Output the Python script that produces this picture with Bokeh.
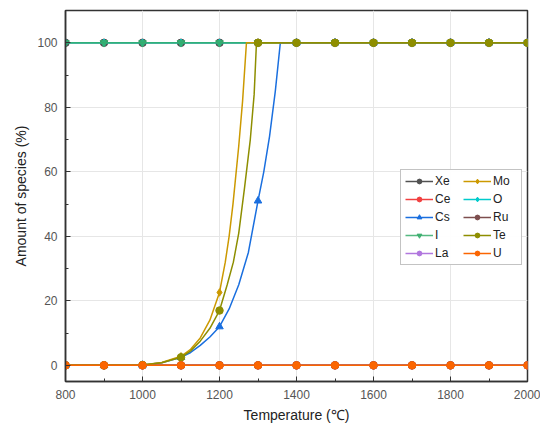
from bokeh.plotting import figure
from bokeh.models import Range1d, Legend, LegendItem, SingleIntervalTicker
from bokeh.embed import file_html
from bokeh.resources import INLINE

# ---- data ----
temps = [800, 900, 1000, 1100, 1200, 1300, 1400, 1500, 1600, 1700, 1800, 1900, 2000]
xe = [100] * 13
ce = [0] * 13
i_ = [100] * 13
la = [0] * 13
o_ = [100] * 13
ru = [0] * 13
u_ = [0] * 13
cs = [0, 0, 0.1, 2.5, 12, 51, 100, 100, 100, 100, 100, 100, 100]
mo = [0, 0, 0.1, 2.8, 22.6, 100, 100, 100, 100, 100, 100, 100, 100]
te = [0, 0, 0.1, 2.5, 17, 100, 100, 100, 100, 100, 100, 100, 100]

# curve traces (denser where they rise)
cs_line_t = [800, 900, 1000, 1050, 1100, 1125, 1150, 1175, 1200, 1225, 1250, 1275, 1300,
             1315, 1330, 1345, 1358, 1400, 2000]
cs_line_v = [0, 0, 0.1, 0.8, 2.5, 4, 6.2, 8.8, 12, 17.5, 25, 35, 51,
             60, 71, 85, 100, 100, 100]
mo_line_t = [800, 900, 1000, 1050, 1100, 1125, 1150, 1175, 1200, 1215, 1225, 1235, 1250,
             1260, 1270, 1300, 2000]
mo_line_v = [0, 0, 0.1, 0.9, 2.8, 5, 8.5, 14, 22.6, 32, 40, 50, 68,
             82, 100, 100, 100]
te_line_t = [800, 900, 1000, 1050, 1100, 1125, 1150, 1175, 1200, 1220, 1236, 1250, 1265,
             1280, 1290, 1296, 1300, 2000]
te_line_v = [0, 0, 0.1, 0.8, 2.5, 4.5, 7.5, 11.5, 17, 25, 32, 41, 55,
             70, 84, 100, 100, 100]

species = ["Xe", "Ce", "Cs", "I", "La", "Mo", "O", "Ru", "Te", "U"]
colors = ["#515151", "#F14040", "#1A6FDF", "#37AD6B", "#B177DE",
          "#CC9900", "#00CBCC", "#7D4E4E", "#8E8E00", "#FB6501"]
markers = ["circle", "circle", "triangle", "inverted_triangle", "circle",
           "diamond", "diamond", "circle", "circle", "circle"]
values = [xe, ce, cs, i_, la, mo, o_, ru, te, u_]
lines = {"Cs": (cs_line_t, cs_line_v), "Mo": (mo_line_t, mo_line_v), "Te": (te_line_t, te_line_v)}
# drawing order (bottom to top); legend order stays as in `species`
draw_order = ["Xe", "O", "I", "Ce", "La", "Ru", "Cs", "Mo", "Te", "U"]

p = figure(width=540, height=425, output_backend="svg", toolbar_location=None,
           x_range=Range1d(800, 2000), y_range=Range1d(-5, 110),
           min_border_left=65, min_border_right=13, min_border_top=10, min_border_bottom=44)

rend = {}
for name in draw_order:
    k = species.index(name)
    col, mk, vals = colors[k], markers[k], values[k]
    lt, lv = lines.get(name, (temps, vals))
    alpha = 0.85 if name == "I" else 1.0
    r1 = p.line(lt, lv, line_color=col, line_width=1.5, line_alpha=alpha)
    r2 = p.scatter(temps, vals, marker=mk, size=7.5, fill_color=col, line_color=col,
                   fill_alpha=alpha, line_alpha=alpha)
    rend[name] = [r1, r2]
items = [LegendItem(label=n, renderers=rend[n]) for n in species]

font = "Liberation Sans"
p.outline_line_color = "#333333"
p.outline_line_width = 1.5
p.xgrid.grid_line_color = "#e6e6e6"
p.ygrid.grid_line_color = "#e6e6e6"

p.xaxis.ticker = SingleIntervalTicker(interval=200, num_minor_ticks=2)
p.yaxis.ticker = SingleIntervalTicker(interval=20, num_minor_ticks=2)
for ax in (p.xaxis[0], p.yaxis[0]):
    ax.axis_line_color = "#333333"
    ax.axis_line_width = 1.5
    ax.major_tick_in = 5
    ax.major_tick_out = 0
    ax.minor_tick_in = 3
    ax.minor_tick_out = 0
    ax.major_tick_line_color = "#333333"
    ax.minor_tick_line_color = "#333333"
    ax.major_label_text_font = font
    ax.major_label_text_font_size = "12px"
    ax.major_label_text_color = "#555555"
    ax.axis_label_text_font = font
    ax.axis_label_text_font_size = "14px"
    ax.axis_label_text_font_style = "normal"
    ax.axis_label_text_color = "#222222"
p.xaxis.axis_label = "Temperature (℃)"
p.yaxis.axis_label = "Amount of species (%)"
p.xaxis.major_label_standoff = 8
p.yaxis.major_label_standoff = 8

legend = Legend(items=items, ncols=2, location=(335, 116),
                label_text_font=font, label_text_font_size="12px",
                label_text_color="#222222", glyph_width=28, glyph_height=12,
                label_standoff=2, spacing=4, padding=4, margin=0,
                border_line_color="#888888", border_line_width=1,
                label_height=14, label_width=24)
p.add_layout(legend, "center")

open("out.html", "w").write(file_html(p, INLINE))
